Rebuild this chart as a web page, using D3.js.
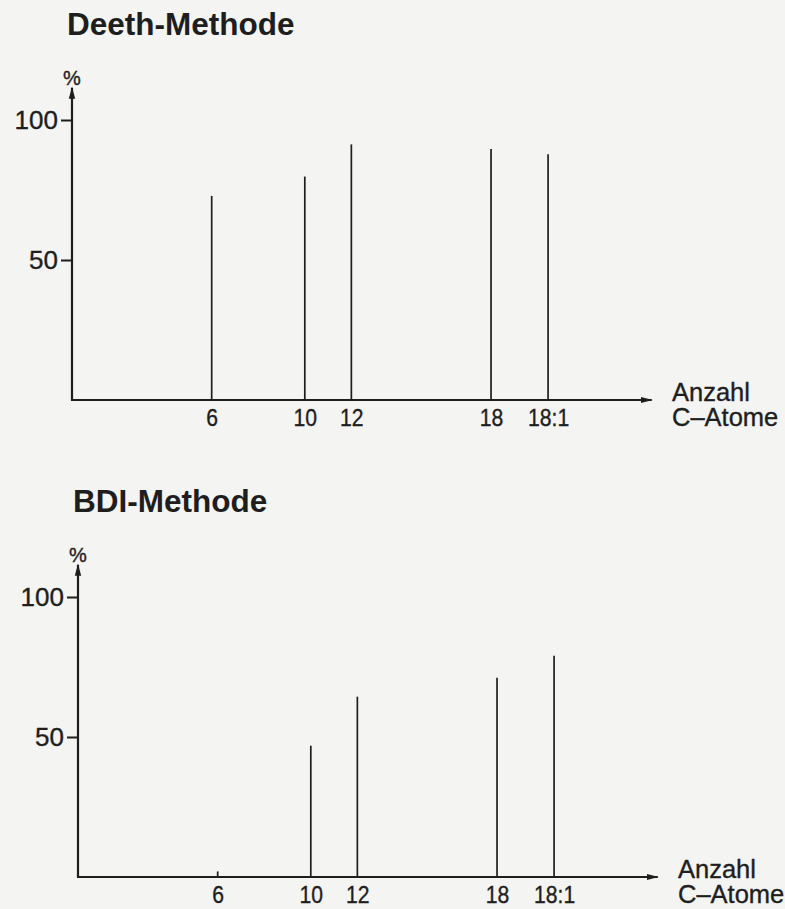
<!DOCTYPE html>
<html>
<head>
<meta charset="utf-8">
<script src="https://cdn.jsdelivr.net/npm/d3@7"></script>
<style>
  html, body { margin: 0; padding: 0; background: #f4f4f2; }
  svg { display: block; }
  text { font-family: "Liberation Sans", Arial, Helvetica, sans-serif; fill: #1e1e1e; }
  text.ink { stroke: #1e1e1e; stroke-width: 0.35px; }
</style>
</head>
<body>
<svg id="chart" width="785" height="909"></svg>
<script>
// ---- data ----
const categories = ["6", "10", "12", "18", "18:1"];
// position of each category on the chain-length axis (as drawn in the original)
const axisPosition = [6, 10, 12, 18, 20.45];
const deethValues = [72.9, 79.8, 91.3, 89.6, 87.8];
const bdiValues = [2, 46.9, 64.4, 71.2, 79];
const yTicks = [50, 100];
const panelTitles = ["Deeth-Methode", "BDI-Methode"];
const yAxisLabel = "%";
const xAxisLabelLines = ["Anzahl", "C–Atome"];

// ---- layout ----
const ink = "#1e1e1e";
const panels = [
  { title: panelTitles[0], values: deethValues, x0: 72, y0: 400 },
  { title: panelTitles[1], values: bdiValues, x0: 78, y0: 877 }
];

const svg = d3.select("#chart");

svg.append("defs").append("marker")
  .attr("id", "arrow")
  .attr("viewBox", "0 0 12 8")
  .attr("refX", 11).attr("refY", 4)
  .attr("markerWidth", 12).attr("markerHeight", 8)
  .attr("markerUnits", "userSpaceOnUse")
  .attr("orient", "auto")
  .append("path")
  .attr("d", "M0,0.8 L12,4 L0,7.2 Z")
  .attr("fill", ink);

panels.forEach(p => {
  const g = svg.append("g");
  const x = d3.scaleLinear().domain([0, 25]).range([p.x0, p.x0 + 582]);
  const y = d3.scaleLinear().domain([0, 100]).range([p.y0, p.y0 - 280]);

  // title
  g.append("text")
    .attr("x", p.x0 - 5).attr("y", p.y0 - 365)
    .attr("font-size", 31.5).attr("font-weight", "bold")
    .text(p.title);

  // y axis (ticks + labels)
  const yAxis = d3.axisLeft(y).tickValues(yTicks).tickSize(11).tickPadding(3)
    .tickFormat(d3.format("d"));
  const yg = g.append("g").attr("transform", `translate(${p.x0},0)`).call(yAxis);
  yg.select(".domain").remove();
  yg.selectAll(".tick line").attr("stroke", ink).attr("stroke-width", 2);
  yg.selectAll(".tick text").attr("class", "ink").attr("font-size", 26).attr("fill", ink)
    .attr("font-family", "Liberation Sans, Arial, sans-serif");

  // y axis line with arrow
  g.append("line")
    .attr("x1", x(0)).attr("x2", x(0))
    .attr("y1", y(0) + 1).attr("y2", y(111.5))
    .attr("stroke", ink).attr("stroke-width", 2.2)
    .attr("marker-end", "url(#arrow)");

  g.append("text")
    .attr("class", "ink")
    .attr("x", x(0)).attr("y", y(111.5) - 3)
    .attr("text-anchor", "middle").attr("font-size", 20)
    .text(yAxisLabel);

  // x axis labels (slightly condensed, like the original typeface)
  const xAxis = d3.axisBottom(x).tickValues(axisPosition).tickSize(0).tickPadding(9.5)
    .tickFormat((d, i) => categories[i]);
  const xg = g.append("g").attr("transform", `translate(0,${p.y0})`).call(xAxis);
  xg.select(".domain").remove();
  xg.selectAll(".tick text").attr("class", "ink").attr("font-size", 23.5).attr("fill", ink)
    .attr("font-family", "Liberation Sans, Arial, sans-serif")
    .attr("transform", "scale(0.9,1)");

  // bars (thin vertical lines)
  g.selectAll("line.bar").data(p.values).enter().append("line")
    .attr("class", "bar")
    .attr("x1", (d, i) => x(axisPosition[i])).attr("x2", (d, i) => x(axisPosition[i]))
    .attr("y1", y(0)).attr("y2", d => y(d))
    .attr("stroke", ink).attr("stroke-width", 1.7);

  // x axis line with arrow
  g.append("line")
    .attr("x1", x(0) - 1).attr("x2", x(24.9))
    .attr("y1", y(0)).attr("y2", y(0))
    .attr("stroke", ink).attr("stroke-width", 2.2)
    .attr("marker-end", "url(#arrow)");

  // x axis title
  const t = g.append("text").attr("class", "ink").attr("font-size", 25.5);
  xAxisLabelLines.forEach((line, i) => {
    t.append("tspan").attr("x", p.x0 + 600).attr("y", p.y0 + 1 + i * 25).text(line);
  });
});
</script>
</body>
</html>
